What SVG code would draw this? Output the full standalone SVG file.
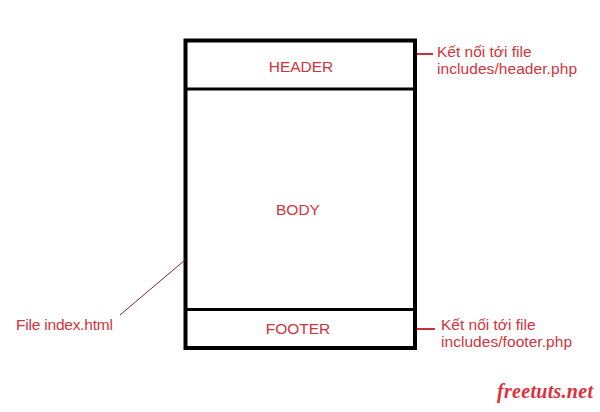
<svg xmlns="http://www.w3.org/2000/svg" width="600" height="412" viewBox="0 0 600 412">
<style>
.t{font-family:"Liberation Sans",Arial,sans-serif;font-size:15.5px;fill:#d0343c}
.c{text-anchor:middle}
.box{fill:none;stroke:#000;stroke-width:4}
.div{stroke:#000;stroke-width:3}
.conn{stroke:#c8303a;stroke-width:2}
</style>
<rect width="600" height="412" fill="#fff"/>
<g id="page">
<rect class="box" x="185.5" y="40.5" width="229.5" height="307.5"/>
<line class="div" x1="185" y1="89" x2="416" y2="89"/>
<line class="div" x1="185" y1="309.5" x2="416" y2="309.5"/>
</g>
<g id="header"><text class="t c" x="301" y="72">HEADER</text></g>
<g id="body"><text class="t c" x="298" y="215">BODY</text></g>
<g id="footer"><text class="t c" x="298" y="334">FOOTER</text></g>
<g id="connectors">
<line class="conn" x1="417" y1="54" x2="433" y2="54"/>
<line class="conn" x1="417" y1="329" x2="435" y2="329"/>
<line x1="120" y1="315" x2="185" y2="260" stroke="#8b2030" stroke-width="1"/>
</g>
<g id="note-header">
<text class="t" x="437" y="57">Kết nối tới file</text>
<text class="t" x="437" y="74" textLength="140">includes/header.php</text>
</g>
<g id="note-footer">
<text class="t" x="441" y="330">Kết nối tới file</text>
<text class="t" x="441" y="347" textLength="131">includes/footer.php</text>
</g>
<g id="note-index"><text class="t" x="16" y="330" textLength="97">File index.html</text></g>
<text x="497" y="398" font-family="'Liberation Serif','Times New Roman',serif" font-style="italic" font-weight="bold" font-size="20" fill="#e0303c" textLength="96">freetuts.net</text>
</svg>
